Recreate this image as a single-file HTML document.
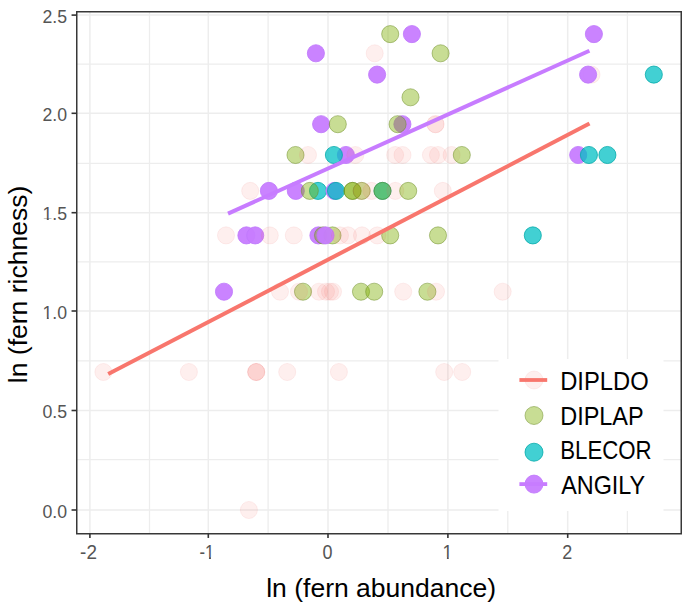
<!DOCTYPE html><html><head><meta charset="utf-8"><style>html,body{margin:0;padding:0;background:#fff;}svg{display:block;}text{font-family:"Liberation Sans",sans-serif;}</style></head><body>
<svg width="685" height="615" viewBox="0 0 685 615">
<rect width="685" height="615" fill="#fff"/>
<line x1="149.50" y1="11.75" x2="149.50" y2="533.75" stroke="#EDEDED" stroke-width="1.3"/>
<line x1="268.10" y1="11.75" x2="268.10" y2="533.75" stroke="#EDEDED" stroke-width="1.3"/>
<line x1="388.00" y1="11.75" x2="388.00" y2="533.75" stroke="#EDEDED" stroke-width="1.3"/>
<line x1="507.80" y1="11.75" x2="507.80" y2="533.75" stroke="#EDEDED" stroke-width="1.3"/>
<line x1="627.40" y1="11.75" x2="627.40" y2="533.75" stroke="#EDEDED" stroke-width="1.3"/>
<line x1="76.75" y1="459.60" x2="681.25" y2="459.60" stroke="#EDEDED" stroke-width="1.3"/>
<line x1="76.75" y1="360.90" x2="681.25" y2="360.90" stroke="#EDEDED" stroke-width="1.3"/>
<line x1="76.75" y1="261.80" x2="681.25" y2="261.80" stroke="#EDEDED" stroke-width="1.3"/>
<line x1="76.75" y1="163.30" x2="681.25" y2="163.30" stroke="#EDEDED" stroke-width="1.3"/>
<line x1="76.75" y1="64.10" x2="681.25" y2="64.10" stroke="#EDEDED" stroke-width="1.3"/>
<line x1="89.90" y1="11.75" x2="89.90" y2="533.75" stroke="#EDEDED" stroke-width="1.5"/>
<line x1="208.30" y1="11.75" x2="208.30" y2="533.75" stroke="#EDEDED" stroke-width="1.5"/>
<line x1="328.00" y1="11.75" x2="328.00" y2="533.75" stroke="#EDEDED" stroke-width="1.5"/>
<line x1="447.90" y1="11.75" x2="447.90" y2="533.75" stroke="#EDEDED" stroke-width="1.5"/>
<line x1="567.70" y1="11.75" x2="567.70" y2="533.75" stroke="#EDEDED" stroke-width="1.5"/>
<line x1="76.75" y1="510.00" x2="681.25" y2="510.00" stroke="#EDEDED" stroke-width="1.5"/>
<line x1="76.75" y1="410.50" x2="681.25" y2="410.50" stroke="#EDEDED" stroke-width="1.5"/>
<line x1="76.75" y1="311.00" x2="681.25" y2="311.00" stroke="#EDEDED" stroke-width="1.5"/>
<line x1="76.75" y1="212.70" x2="681.25" y2="212.70" stroke="#EDEDED" stroke-width="1.5"/>
<line x1="76.75" y1="113.30" x2="681.25" y2="113.30" stroke="#EDEDED" stroke-width="1.5"/>
<line x1="76.75" y1="15.10" x2="681.25" y2="15.10" stroke="#EDEDED" stroke-width="1.5"/>
<circle cx="390.2" cy="34.1" r="8.55" fill="#7CAE00" fill-opacity="0.42" stroke="#6A8A20" stroke-opacity="0.55" stroke-width="0.9"/>
<circle cx="411.9" cy="34.1" r="8.55" fill="#C77CFF" fill-opacity="0.95" stroke="#C079FC" stroke-opacity="0.95" stroke-width="0.9"/>
<circle cx="593.9" cy="34.1" r="8.55" fill="#C77CFF" fill-opacity="0.95" stroke="#C079FC" stroke-opacity="0.95" stroke-width="0.9"/>
<circle cx="315.9" cy="53.3" r="8.55" fill="#C77CFF" fill-opacity="0.95" stroke="#C079FC" stroke-opacity="0.95" stroke-width="0.9"/>
<circle cx="374.7" cy="53.3" r="8.55" fill="#F8766D" fill-opacity="0.115" stroke="#E86A62" stroke-opacity="0.11" stroke-width="0.9"/>
<circle cx="440.6" cy="53.3" r="8.55" fill="#7CAE00" fill-opacity="0.42" stroke="#6A8A20" stroke-opacity="0.55" stroke-width="0.9"/>
<circle cx="377.1" cy="74.6" r="8.55" fill="#C77CFF" fill-opacity="0.95" stroke="#C079FC" stroke-opacity="0.95" stroke-width="0.9"/>
<circle cx="591.5" cy="74.6" r="8.55" fill="#F8766D" fill-opacity="0.115" stroke="#E86A62" stroke-opacity="0.11" stroke-width="0.9"/>
<circle cx="588.1" cy="74.6" r="8.55" fill="#C77CFF" fill-opacity="0.95" stroke="#C079FC" stroke-opacity="0.95" stroke-width="0.9"/>
<circle cx="653.8" cy="74.6" r="8.55" fill="#00BFC4" fill-opacity="0.74" stroke="#00A8A8" stroke-opacity="0.85" stroke-width="0.9"/>
<circle cx="410.5" cy="97.3" r="8.55" fill="#7CAE00" fill-opacity="0.42" stroke="#6A8A20" stroke-opacity="0.55" stroke-width="0.9"/>
<circle cx="321.1" cy="124.2" r="8.55" fill="#C77CFF" fill-opacity="0.95" stroke="#C079FC" stroke-opacity="0.95" stroke-width="0.9"/>
<circle cx="337.8" cy="124.2" r="8.55" fill="#7CAE00" fill-opacity="0.42" stroke="#6A8A20" stroke-opacity="0.55" stroke-width="0.9"/>
<circle cx="402.4" cy="124.2" r="8.55" fill="#C77CFF" fill-opacity="0.95" stroke="#C079FC" stroke-opacity="0.95" stroke-width="0.9"/>
<circle cx="397.6" cy="124.2" r="8.55" fill="#7CAE00" fill-opacity="0.42" stroke="#6A8A20" stroke-opacity="0.55" stroke-width="0.9"/>
<circle cx="435.5" cy="124.2" r="8.55" fill="#F8766D" fill-opacity="0.115" stroke="#E86A62" stroke-opacity="0.11" stroke-width="0.9"/>
<circle cx="435.5" cy="124.2" r="8.55" fill="#F8766D" fill-opacity="0.115" stroke="#E86A62" stroke-opacity="0.11" stroke-width="0.9"/>
<circle cx="295.5" cy="155.0" r="8.55" fill="#7CAE00" fill-opacity="0.42" stroke="#6A8A20" stroke-opacity="0.55" stroke-width="0.9"/>
<circle cx="308.0" cy="155.0" r="8.55" fill="#F8766D" fill-opacity="0.115" stroke="#E86A62" stroke-opacity="0.11" stroke-width="0.9"/>
<circle cx="345.9" cy="155.0" r="8.55" fill="#C77CFF" fill-opacity="0.95" stroke="#C079FC" stroke-opacity="0.95" stroke-width="0.9"/>
<circle cx="333.9" cy="155.0" r="8.55" fill="#00BFC4" fill-opacity="0.74" stroke="#00A8A8" stroke-opacity="0.85" stroke-width="0.9"/>
<circle cx="355.3" cy="155.0" r="8.55" fill="#F8766D" fill-opacity="0.115" stroke="#E86A62" stroke-opacity="0.11" stroke-width="0.9"/>
<circle cx="395.1" cy="155.0" r="8.55" fill="#F8766D" fill-opacity="0.115" stroke="#E86A62" stroke-opacity="0.11" stroke-width="0.9"/>
<circle cx="402.5" cy="155.0" r="8.55" fill="#F8766D" fill-opacity="0.115" stroke="#E86A62" stroke-opacity="0.11" stroke-width="0.9"/>
<circle cx="430.9" cy="155.0" r="8.55" fill="#F8766D" fill-opacity="0.115" stroke="#E86A62" stroke-opacity="0.11" stroke-width="0.9"/>
<circle cx="438.0" cy="155.0" r="8.55" fill="#F8766D" fill-opacity="0.115" stroke="#E86A62" stroke-opacity="0.11" stroke-width="0.9"/>
<circle cx="451.6" cy="155.0" r="8.55" fill="#F8766D" fill-opacity="0.115" stroke="#E86A62" stroke-opacity="0.11" stroke-width="0.9"/>
<circle cx="461.8" cy="155.0" r="8.55" fill="#7CAE00" fill-opacity="0.42" stroke="#6A8A20" stroke-opacity="0.55" stroke-width="0.9"/>
<circle cx="578.2" cy="155.0" r="8.55" fill="#C77CFF" fill-opacity="0.95" stroke="#C079FC" stroke-opacity="0.95" stroke-width="0.9"/>
<circle cx="588.9" cy="155.0" r="8.55" fill="#00BFC4" fill-opacity="0.74" stroke="#00A8A8" stroke-opacity="0.85" stroke-width="0.9"/>
<circle cx="607.4" cy="155.0" r="8.55" fill="#00BFC4" fill-opacity="0.74" stroke="#00A8A8" stroke-opacity="0.85" stroke-width="0.9"/>
<circle cx="250.2" cy="190.9" r="8.55" fill="#F8766D" fill-opacity="0.115" stroke="#E86A62" stroke-opacity="0.11" stroke-width="0.9"/>
<circle cx="268.9" cy="190.9" r="8.55" fill="#C77CFF" fill-opacity="0.95" stroke="#C079FC" stroke-opacity="0.95" stroke-width="0.9"/>
<circle cx="295.8" cy="190.9" r="8.55" fill="#C77CFF" fill-opacity="0.95" stroke="#C079FC" stroke-opacity="0.95" stroke-width="0.9"/>
<circle cx="318.0" cy="190.9" r="8.55" fill="#00BFC4" fill-opacity="0.74" stroke="#00A8A8" stroke-opacity="0.85" stroke-width="0.9"/>
<circle cx="309.8" cy="190.9" r="8.55" fill="#7CAE00" fill-opacity="0.42" stroke="#6A8A20" stroke-opacity="0.55" stroke-width="0.9"/>
<circle cx="334.5" cy="190.9" r="8.55" fill="#C77CFF" fill-opacity="0.95" stroke="#C079FC" stroke-opacity="0.95" stroke-width="0.9"/>
<circle cx="336.0" cy="190.9" r="8.55" fill="#00BFC4" fill-opacity="0.74" stroke="#00A8A8" stroke-opacity="0.85" stroke-width="0.9"/>
<circle cx="352.5" cy="190.9" r="8.55" fill="#7CAE00" fill-opacity="0.42" stroke="#6A8A20" stroke-opacity="0.55" stroke-width="0.9"/>
<circle cx="352.5" cy="190.9" r="8.55" fill="#7CAE00" fill-opacity="0.42" stroke="#6A8A20" stroke-opacity="0.55" stroke-width="0.9"/>
<circle cx="361.7" cy="190.9" r="8.55" fill="#7CAE00" fill-opacity="0.42" stroke="#6A8A20" stroke-opacity="0.55" stroke-width="0.9"/>
<circle cx="361.7" cy="190.9" r="8.55" fill="#F8766D" fill-opacity="0.115" stroke="#E86A62" stroke-opacity="0.11" stroke-width="0.9"/>
<circle cx="371.5" cy="190.9" r="8.55" fill="#F8766D" fill-opacity="0.115" stroke="#E86A62" stroke-opacity="0.11" stroke-width="0.9"/>
<circle cx="382.5" cy="190.9" r="8.55" fill="#00BFC4" fill-opacity="0.74" stroke="#00A8A8" stroke-opacity="0.85" stroke-width="0.9"/>
<circle cx="382.5" cy="190.9" r="8.55" fill="#7CAE00" fill-opacity="0.42" stroke="#6A8A20" stroke-opacity="0.55" stroke-width="0.9"/>
<circle cx="395.3" cy="190.9" r="8.55" fill="#F8766D" fill-opacity="0.115" stroke="#E86A62" stroke-opacity="0.11" stroke-width="0.9"/>
<circle cx="408.2" cy="190.9" r="8.55" fill="#7CAE00" fill-opacity="0.42" stroke="#6A8A20" stroke-opacity="0.55" stroke-width="0.9"/>
<circle cx="442.8" cy="190.9" r="8.55" fill="#F8766D" fill-opacity="0.115" stroke="#E86A62" stroke-opacity="0.11" stroke-width="0.9"/>
<circle cx="226.0" cy="235.4" r="8.55" fill="#F8766D" fill-opacity="0.115" stroke="#E86A62" stroke-opacity="0.11" stroke-width="0.9"/>
<circle cx="246.4" cy="235.4" r="8.55" fill="#C77CFF" fill-opacity="0.95" stroke="#C079FC" stroke-opacity="0.95" stroke-width="0.9"/>
<circle cx="255.2" cy="235.4" r="8.55" fill="#C77CFF" fill-opacity="0.95" stroke="#C079FC" stroke-opacity="0.95" stroke-width="0.9"/>
<circle cx="269.8" cy="235.4" r="8.55" fill="#F8766D" fill-opacity="0.115" stroke="#E86A62" stroke-opacity="0.11" stroke-width="0.9"/>
<circle cx="293.8" cy="235.4" r="8.55" fill="#F8766D" fill-opacity="0.115" stroke="#E86A62" stroke-opacity="0.11" stroke-width="0.9"/>
<circle cx="318.4" cy="235.4" r="8.55" fill="#C77CFF" fill-opacity="0.95" stroke="#C079FC" stroke-opacity="0.95" stroke-width="0.9"/>
<circle cx="323.0" cy="235.4" r="8.55" fill="#7CAE00" fill-opacity="0.42" stroke="#6A8A20" stroke-opacity="0.55" stroke-width="0.9"/>
<circle cx="332.5" cy="235.4" r="8.55" fill="#7CAE00" fill-opacity="0.42" stroke="#6A8A20" stroke-opacity="0.55" stroke-width="0.9"/>
<circle cx="325.5" cy="235.4" r="8.55" fill="#C77CFF" fill-opacity="0.95" stroke="#C079FC" stroke-opacity="0.95" stroke-width="0.9"/>
<circle cx="340.0" cy="235.4" r="8.55" fill="#F8766D" fill-opacity="0.115" stroke="#E86A62" stroke-opacity="0.11" stroke-width="0.9"/>
<circle cx="348.0" cy="235.4" r="8.55" fill="#F8766D" fill-opacity="0.115" stroke="#E86A62" stroke-opacity="0.11" stroke-width="0.9"/>
<circle cx="362.0" cy="235.4" r="8.55" fill="#F8766D" fill-opacity="0.115" stroke="#E86A62" stroke-opacity="0.11" stroke-width="0.9"/>
<circle cx="377.3" cy="235.4" r="8.55" fill="#F8766D" fill-opacity="0.115" stroke="#E86A62" stroke-opacity="0.11" stroke-width="0.9"/>
<circle cx="390.2" cy="235.4" r="8.55" fill="#7CAE00" fill-opacity="0.42" stroke="#6A8A20" stroke-opacity="0.55" stroke-width="0.9"/>
<circle cx="438.0" cy="235.4" r="8.55" fill="#7CAE00" fill-opacity="0.42" stroke="#6A8A20" stroke-opacity="0.55" stroke-width="0.9"/>
<circle cx="532.8" cy="235.4" r="8.55" fill="#00BFC4" fill-opacity="0.74" stroke="#00A8A8" stroke-opacity="0.85" stroke-width="0.9"/>
<circle cx="224.0" cy="291.7" r="8.55" fill="#C77CFF" fill-opacity="0.95" stroke="#C079FC" stroke-opacity="0.95" stroke-width="0.9"/>
<circle cx="280.0" cy="291.7" r="8.55" fill="#F8766D" fill-opacity="0.115" stroke="#E86A62" stroke-opacity="0.11" stroke-width="0.9"/>
<circle cx="303.0" cy="291.7" r="8.55" fill="#7CAE00" fill-opacity="0.42" stroke="#6A8A20" stroke-opacity="0.55" stroke-width="0.9"/>
<circle cx="299.0" cy="291.7" r="8.55" fill="#F8766D" fill-opacity="0.115" stroke="#E86A62" stroke-opacity="0.11" stroke-width="0.9"/>
<circle cx="319.0" cy="291.7" r="8.55" fill="#F8766D" fill-opacity="0.115" stroke="#E86A62" stroke-opacity="0.11" stroke-width="0.9"/>
<circle cx="326.0" cy="291.7" r="8.55" fill="#F8766D" fill-opacity="0.115" stroke="#E86A62" stroke-opacity="0.11" stroke-width="0.9"/>
<circle cx="330.0" cy="291.7" r="8.55" fill="#F8766D" fill-opacity="0.115" stroke="#E86A62" stroke-opacity="0.11" stroke-width="0.9"/>
<circle cx="333.0" cy="291.7" r="8.55" fill="#F8766D" fill-opacity="0.115" stroke="#E86A62" stroke-opacity="0.11" stroke-width="0.9"/>
<circle cx="361.0" cy="291.7" r="8.55" fill="#7CAE00" fill-opacity="0.42" stroke="#6A8A20" stroke-opacity="0.55" stroke-width="0.9"/>
<circle cx="374.2" cy="291.7" r="8.55" fill="#7CAE00" fill-opacity="0.42" stroke="#6A8A20" stroke-opacity="0.55" stroke-width="0.9"/>
<circle cx="403.2" cy="291.7" r="8.55" fill="#F8766D" fill-opacity="0.115" stroke="#E86A62" stroke-opacity="0.11" stroke-width="0.9"/>
<circle cx="427.4" cy="291.7" r="8.55" fill="#7CAE00" fill-opacity="0.42" stroke="#6A8A20" stroke-opacity="0.55" stroke-width="0.9"/>
<circle cx="436.0" cy="291.7" r="8.55" fill="#F8766D" fill-opacity="0.115" stroke="#E86A62" stroke-opacity="0.11" stroke-width="0.9"/>
<circle cx="502.7" cy="291.7" r="8.55" fill="#F8766D" fill-opacity="0.115" stroke="#E86A62" stroke-opacity="0.11" stroke-width="0.9"/>
<circle cx="103.4" cy="372.0" r="8.55" fill="#F8766D" fill-opacity="0.115" stroke="#E86A62" stroke-opacity="0.11" stroke-width="0.9"/>
<circle cx="188.9" cy="372.0" r="8.55" fill="#F8766D" fill-opacity="0.115" stroke="#E86A62" stroke-opacity="0.11" stroke-width="0.9"/>
<circle cx="256.2" cy="372.0" r="8.55" fill="#F8766D" fill-opacity="0.115" stroke="#E86A62" stroke-opacity="0.11" stroke-width="0.9"/>
<circle cx="256.2" cy="372.0" r="8.55" fill="#F8766D" fill-opacity="0.115" stroke="#E86A62" stroke-opacity="0.11" stroke-width="0.9"/>
<circle cx="256.2" cy="372.0" r="8.55" fill="#F8766D" fill-opacity="0.115" stroke="#E86A62" stroke-opacity="0.11" stroke-width="0.9"/>
<circle cx="287.2" cy="372.0" r="8.55" fill="#F8766D" fill-opacity="0.115" stroke="#E86A62" stroke-opacity="0.11" stroke-width="0.9"/>
<circle cx="338.9" cy="372.0" r="8.55" fill="#F8766D" fill-opacity="0.115" stroke="#E86A62" stroke-opacity="0.11" stroke-width="0.9"/>
<circle cx="444.2" cy="372.0" r="8.55" fill="#F8766D" fill-opacity="0.115" stroke="#E86A62" stroke-opacity="0.11" stroke-width="0.9"/>
<circle cx="462.2" cy="372.0" r="8.55" fill="#F8766D" fill-opacity="0.115" stroke="#E86A62" stroke-opacity="0.11" stroke-width="0.9"/>
<circle cx="248.9" cy="510.0" r="8.55" fill="#F8766D" fill-opacity="0.115" stroke="#E86A62" stroke-opacity="0.11" stroke-width="0.9"/>
<line x1="108.2" y1="374.1" x2="589.5" y2="123.5" stroke="#F8766D" stroke-width="4.0"/>
<line x1="228" y1="213.6" x2="589.4" y2="50.7" stroke="#C77CFF" stroke-width="4.0"/>
<rect x="498.5" y="359" width="165" height="152" fill="#fff"/>
<circle cx="534.0" cy="380.0" r="9.0" fill="#F8766D" fill-opacity="0.115" stroke="#E86A62" stroke-opacity="0.11" stroke-width="0.9"/>
<line x1="519.4" y1="380.0" x2="547.2" y2="380.0" stroke="#F8766D" stroke-width="3.8"/>
<text x="560.2" y="389.8" font-size="25.5" fill="#000" textLength="88.5" lengthAdjust="spacingAndGlyphs">DIPLDO</text>
<circle cx="534.0" cy="415.5" r="9.0" fill="#7CAE00" fill-opacity="0.42" stroke="#6A8A20" stroke-opacity="0.55" stroke-width="0.9"/>
<text x="560.2" y="424.8" font-size="25.5" fill="#000" textLength="83.5" lengthAdjust="spacingAndGlyphs">DIPLAP</text>
<circle cx="534.0" cy="452.2" r="9.0" fill="#00BFC4" fill-opacity="0.74" stroke="#00A8A8" stroke-opacity="0.85" stroke-width="0.9"/>
<text x="560.2" y="459.4" font-size="25.5" fill="#000" textLength="91.5" lengthAdjust="spacingAndGlyphs">BLECOR</text>
<circle cx="534.0" cy="484.1" r="9.0" fill="#C77CFF" fill-opacity="0.95" stroke="#C079FC" stroke-opacity="0.95" stroke-width="0.9"/>
<line x1="519.4" y1="484.1" x2="547.2" y2="484.1" stroke="#C77CFF" stroke-width="3.8"/>
<text x="561.2" y="493.6" font-size="25.5" fill="#000" textLength="84.0" lengthAdjust="spacingAndGlyphs">ANGILY</text>
<rect x="76.75" y="11.75" width="604.5" height="522.0" fill="none" stroke="#383838" stroke-width="1.5"/>
<line x1="89.90" y1="533.75" x2="89.90" y2="537.95" stroke="#333333" stroke-width="1.6"/>
<text x="88.50" y="558.8" font-size="19.5" fill="#555555" text-anchor="middle" textLength="16.8" lengthAdjust="spacingAndGlyphs">-2</text>
<line x1="208.30" y1="533.75" x2="208.30" y2="537.95" stroke="#333333" stroke-width="1.6"/>
<text x="206.90" y="558.8" font-size="19.5" fill="#555555" text-anchor="middle" textLength="14.8" lengthAdjust="spacingAndGlyphs">-1</text>
<rect x="204.3" y="556.95" width="4.65" height="2.6" fill="#fff"/><rect x="210.95" y="556.95" width="4.0" height="2.6" fill="#fff"/>
<line x1="328.00" y1="533.75" x2="328.00" y2="537.95" stroke="#333333" stroke-width="1.6"/>
<text x="327.60" y="558.8" font-size="19.5" fill="#555555" text-anchor="middle" textLength="10.0" lengthAdjust="spacingAndGlyphs">0</text>
<line x1="447.90" y1="533.75" x2="447.90" y2="537.95" stroke="#333333" stroke-width="1.6"/>
<text x="447.50" y="558.8" font-size="19.5" fill="#555555" text-anchor="middle" textLength="10.0" lengthAdjust="spacingAndGlyphs">1</text>
<rect x="442.5" y="556.95" width="4.4" height="2.6" fill="#fff"/><rect x="448.75" y="556.95" width="4.8" height="2.6" fill="#fff"/>
<line x1="567.70" y1="533.75" x2="567.70" y2="537.95" stroke="#333333" stroke-width="1.6"/>
<text x="567.30" y="558.8" font-size="19.5" fill="#555555" text-anchor="middle" textLength="10.0" lengthAdjust="spacingAndGlyphs">2</text>
<line x1="71.55" y1="510.00" x2="76.75" y2="510.00" stroke="#333333" stroke-width="1.6"/>
<text x="67.1" y="517.60" font-size="19" fill="#555555" text-anchor="end" textLength="24.6" lengthAdjust="spacingAndGlyphs">0.0</text>
<line x1="71.55" y1="410.50" x2="76.75" y2="410.50" stroke="#333333" stroke-width="1.6"/>
<text x="67.1" y="418.10" font-size="19" fill="#555555" text-anchor="end" textLength="24.6" lengthAdjust="spacingAndGlyphs">0.5</text>
<line x1="71.55" y1="311.00" x2="76.75" y2="311.00" stroke="#333333" stroke-width="1.6"/>
<text x="67.1" y="318.60" font-size="19" fill="#555555" text-anchor="end" textLength="24.6" lengthAdjust="spacingAndGlyphs">1.0</text>
<rect x="42" y="316.95" width="4.8" height="2.6" fill="#fff"/><rect x="48.75" y="316.95" width="3.6" height="2.6" fill="#fff"/>
<line x1="71.55" y1="212.70" x2="76.75" y2="212.70" stroke="#333333" stroke-width="1.6"/>
<text x="67.1" y="220.30" font-size="19" fill="#555555" text-anchor="end" textLength="24.6" lengthAdjust="spacingAndGlyphs">1.5</text>
<rect x="42" y="218.65" width="4.8" height="2.6" fill="#fff"/><rect x="48.75" y="218.65" width="3.6" height="2.6" fill="#fff"/>
<line x1="71.55" y1="113.30" x2="76.75" y2="113.30" stroke="#333333" stroke-width="1.6"/>
<text x="67.1" y="120.90" font-size="19" fill="#555555" text-anchor="end" textLength="24.6" lengthAdjust="spacingAndGlyphs">2.0</text>
<line x1="71.55" y1="15.10" x2="76.75" y2="15.10" stroke="#333333" stroke-width="1.6"/>
<text x="67.1" y="22.70" font-size="19" fill="#555555" text-anchor="end" textLength="24.6" lengthAdjust="spacingAndGlyphs">2.5</text>
<text x="266.2" y="596.7" font-size="26" fill="#000" textLength="230" lengthAdjust="spacingAndGlyphs">ln (fern abundance)</text>
<text x="0" y="0" font-size="26" fill="#000" textLength="197.5" lengthAdjust="spacingAndGlyphs" transform="translate(26.8,383.2) rotate(-90)">ln (fern richness)</text>
</svg></body></html>
